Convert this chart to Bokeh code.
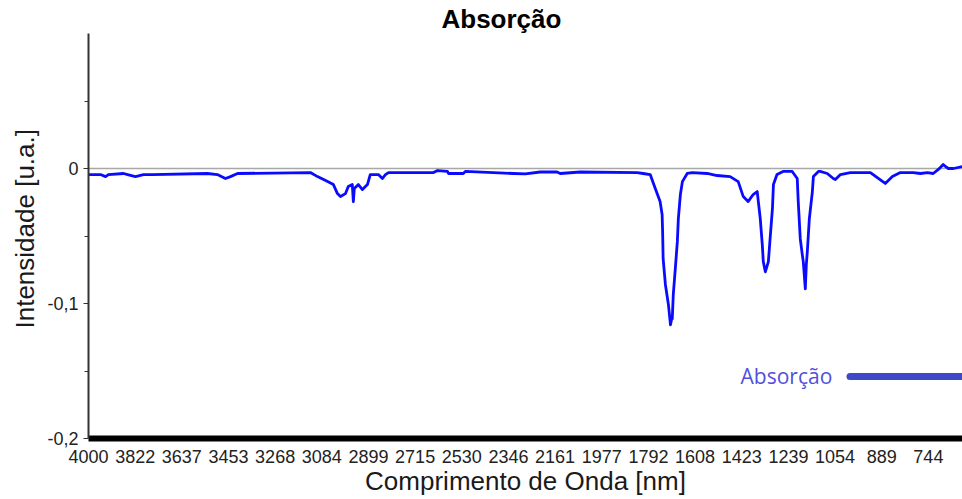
import numpy as np
from bokeh.plotting import figure
from bokeh.models import Range1d, FixedTicker, Span, Title, Label
from bokeh.embed import file_html
from bokeh.resources import INLINE

# ---- data ----
TICK_WL = [4000, 3822, 3637, 3453, 3268, 3084, 2899, 2715, 2530, 2346,
           2161, 1977, 1792, 1608, 1423, 1239, 1054, 889, 744]

WAVELENGTH_NM = [
    4000, 3954, 3935, 3924, 3866, 3851, 3821, 3789, 3754, 3536, 3497, 3465, 3445, 3417,
    3129, 3101, 3061, 3038, 3022, 3010, 2990, 2979, 2963, 2959, 2955, 2939, 2923, 2903,
    2892, 2860, 2844, 2832, 2820, 2642, 2626, 2587, 2583, 2524, 2516, 2326, 2279, 2220,
    2153, 2141, 2062, 1837, 1813, 1785, 1765, 1746, 1738, 1736, 1734, 1725, 1713, 1705,
    1701, 1698, 1694, 1686, 1678, 1674, 1666, 1658, 1639, 1619, 1560, 1521, 1469, 1437,
    1417, 1398, 1378, 1362, 1350, 1342, 1338, 1330, 1318, 1310, 1302, 1298, 1284, 1260,
    1224, 1204, 1200, 1192, 1184, 1180, 1172, 1168, 1164, 1156, 1144, 1140, 1120, 1113,
    1085, 1061, 1053, 1035, 1000, 929, 901, 878, 856, 831, 791, 769, 747, 729, 713, 698,
    691, 682, 666, 638,
]
ABSORCAO = [
    -0.0045, -0.0045, -0.0060, -0.0045, -0.0037, -0.0045, -0.0060, -0.0045, -0.0045, -0.0037,
    -0.0045, -0.0074, -0.0060, -0.0037, -0.0030, -0.0060, -0.0097, -0.0119, -0.0186, -0.0208,
    -0.0186, -0.0134, -0.0119, -0.0245, -0.0148, -0.0119, -0.0156, -0.0119, -0.0045, -0.0045,
    -0.0074, -0.0045, -0.0030, -0.0030, -0.0015, -0.0022, -0.0037, -0.0037, -0.0022, -0.0037,
    -0.0040, -0.0026, -0.0026, -0.0037, -0.0026, -0.0030, -0.0037, -0.0045, -0.0148, -0.0245,
    -0.0341, -0.0468, -0.0668, -0.0861, -0.1010, -0.1158, -0.1120, -0.1114, -0.0935, -0.0742,
    -0.0542, -0.0371, -0.0193, -0.0097, -0.0037, -0.0030, -0.0037, -0.0052, -0.0060, -0.0097,
    -0.0208, -0.0245, -0.0193, -0.0171, -0.0371, -0.0564, -0.0690, -0.0765, -0.0690, -0.0490,
    -0.0297, -0.0119, -0.0045, -0.0022, -0.0022, -0.0074, -0.0245, -0.0520, -0.0638, -0.0690,
    -0.0891, -0.0713, -0.0616, -0.0371, -0.0171, -0.0060, -0.0022, -0.0022, -0.0037, -0.0074,
    -0.0082, -0.0045, -0.0030, -0.0030, -0.0074, -0.0111, -0.0060, -0.0030, -0.0030, -0.0037,
    -0.0030, -0.0037, -0.0007, 0.0030, 0.0015, 0.0000, 0.0000, 0.0015,
]

Y_TICKS = [-0.2, -0.1, 0.0]
Y_TICK_LABELS = ["-0,2", "-0,1", "0"]
Y_MINOR = [-0.15, -0.05, 0.05]


def wl_to_pos(wl):
    """Map wavelength onto the (index based) tick axis of the instrument."""
    wl = np.asarray(wl, float)
    t = np.array(TICK_WL, float)
    idx = np.arange(len(t), dtype=float)
    pos = np.interp(-wl, -t, idx)
    beyond = wl < t[-1]
    pos[beyond] = idx[-1] + (t[-1] - wl[beyond]) / (t[-2] - t[-1])
    return pos


xpos = wl_to_pos(WAVELENGTH_NM)
x_end = float(xpos[-1])

SANS = "Liberation Sans"

p = figure(width=962, height=499, output_backend="svg", toolbar_location=None,
           x_range=Range1d(0, x_end), y_range=Range1d(-0.2, 0.1),
           min_border_left=88, min_border_right=0, min_border_top=33,
           min_border_bottom=61, title=None)
p.outline_line_color = None
p.xgrid.visible = False
p.ygrid.visible = False
p.background_fill_color = "white"
p.border_fill_color = "white"

# titles
p.add_layout(Title(text="Absorção", align="left", offset=353, standoff=0,
                   text_font=SANS, text_font_size="26px", text_font_style="bold",
                   text_color="black"), "above")
p.add_layout(Title(text="Intensidade  [u.a.]", align="left", offset=110, standoff=10,
                   text_font=SANS, text_font_size="26px", text_font_style="normal",
                   text_color="#1a1a1a"), "left")

# x axis
xa = p.xaxis[0]
xa.ticker = FixedTicker(ticks=list(range(len(TICK_WL))))
xa.major_label_overrides = {i: str(w) for i, w in enumerate(TICK_WL)}
xa.axis_line_width = 6
xa.axis_line_color = "black"
xa.major_tick_line_color = None
xa.minor_tick_line_color = None
xa.major_label_text_font = SANS
xa.major_label_text_font_size = "18px"
xa.major_label_text_color = "#222222"
xa.major_label_standoff = 5
xa.axis_label = "Comprimento de Onda [nm]"
xa.axis_label_text_font = SANS
xa.axis_label_text_font_size = "26px"
xa.axis_label_text_font_style = "normal"
xa.axis_label_text_color = "#1a1a1a"
xa.axis_label_standoff = 0

# y axis
ya = p.yaxis[0]
ya.ticker = FixedTicker(ticks=Y_TICKS, minor_ticks=Y_MINOR)
ya.major_label_overrides = dict(zip(Y_TICKS, Y_TICK_LABELS))
ya.axis_line_width = 2
ya.axis_line_color = "#333333"
ya.major_tick_in = 0
ya.major_tick_out = 5
ya.minor_tick_in = 0
ya.minor_tick_out = 4
ya.major_tick_line_color = "#333333"
ya.minor_tick_line_color = "#333333"
ya.major_label_text_font = SANS
ya.major_label_text_font_size = "18px"
ya.major_label_text_color = "#222222"
ya.major_label_standoff = 5

# zero line
p.add_layout(Span(location=0, dimension="width", line_color="#a8a8a8",
                  line_width=1.5, level="underlay"))

# spectrum
p.line(xpos, ABSORCAO, line_color="#0a0aff", line_width=2.8, line_join="round")

# legend (label left of the swatch, as in the original)
LEG_Y = -0.154
LEG_TEXT_X = 15.94
LEG_LINE_X0 = 16.32
p.add_layout(Label(x=LEG_TEXT_X, y=LEG_Y, text="Absorção", text_align="right",
                   text_baseline="middle", text_font="Open Sans", text_font_size="21px",
                   text_color="#5050dc"))
p.segment(x0=[LEG_LINE_X0], y0=[LEG_Y], x1=[x_end + 1], y1=[LEG_Y],
          line_color="#3f48c8", line_width=7, line_cap="round")

open("out.html", "w").write(file_html(p, INLINE))
